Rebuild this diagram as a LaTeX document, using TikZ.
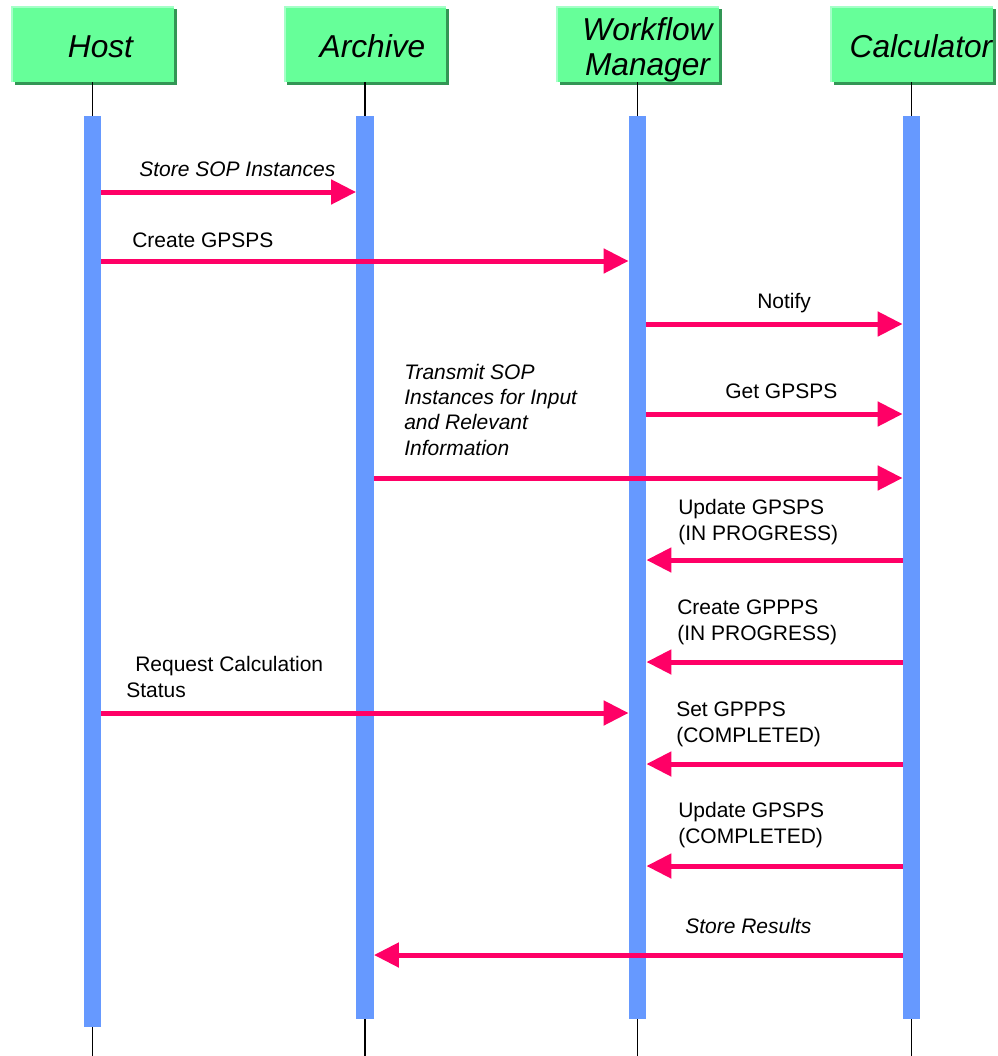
\documentclass[tikz,border=0pt]{standalone}
\usepackage{fontspec}
\setmainfont{Liberation Sans}
\usepackage{tikz}
\usetikzlibrary{calc,shapes,backgrounds,arrows.meta,shadows}
\usetikzlibrary{positioning}
\usepackage{xcolor}
\definecolor{hdrgreen}{RGB}{102,255,153}
\definecolor{hdrdark}{RGB}{51,150,85}
\definecolor{hdrlight}{RGB}{165,255,200}
\definecolor{barblue}{RGB}{102,153,255}
\definecolor{msgred}{RGB}{255,0,102}

\begin{document}
\begin{tikzpicture}[x=0.75pt,y=-0.75pt,
		hdr/.style={fill=hdrgreen,minimum width=121.5pt,minimum height=57pt,inner sep=0pt,
			general shadow={fill=hdrdark,shadow xshift=2.25pt,shadow yshift=-2.25pt}},
		hdrtext/.style={font=\fontsize{23.75}{26.25}\selectfont\itshape,align=center,anchor=base,inner sep=0pt},
		bar/.style={fill=barblue,minimum width=13pt,inner sep=0pt},
		msg/.style={color=msgred,line width=3.75pt,-{Triangle[length=18.75pt,width=18pt]}},
		lbl/.style={font=\fontsize{15.75}{19}\selectfont,align=left,anchor=base west,inner sep=0pt}]
		\useasboundingbox (0,0) rectangle (997,1056);
		\coordinate (bottom) at (0,1056);
		
		% heads
		\node[hdr] (host) at (92.5,44) {};
		\node[hdr] (archive) at (365,44) {};
		\node[hdr] (wfm) at (637.5,44) {};
		\node[hdr] (calc) at (911.5,44) {};
		\foreach \n in {host,archive,wfm,calc}
		\draw[hdrlight,line width=1.5pt] ([xshift=.75pt]\n.south west) -- ([xshift=.75pt,yshift=-.75pt]\n.north west) -- ([yshift=-.75pt]\n.north east);
		\node[hdrtext] (hostname) at (100.5,58) {Host};
		\node[hdrtext] (archivename) at (372.5,58) {Archive};
		\node[hdrtext] (wfmname) at (647.5,75) {Workflow\\Manager};
		\node[hdrtext] (calcname) at (921,58) {Calculator};
		
		% lifelines and bars
		\foreach \n in {host,archive,wfm,calc}
		\draw[line width=1.25pt] (\n.south) -- (\n.south |- bottom);
		\node[bar,below=24.75pt of host,minimum height=683.25pt] (hbar) {};
		\foreach \n/\b in {archive/abar,wfm/wbar,calc/cbar}
		\node[bar,below=24.75pt of \n,minimum height=677.25pt] (\b) {};
		
		% messages
		\foreach \n/\y in {m1/192,m2/261,m3/324,m4/414,m5/478,m6/560,m7/662,m8/713,m9/764,m10/866,m11/955}
		\coordinate (\n) at (0,\y);
		\draw[msg] (hbar.east |- m1) -- (abar.west |- m1);
		\draw[msg] (hbar.east |- m2) -- (wbar.west |- m2);
		\draw[msg] (wbar.east |- m3) -- (cbar.west |- m3);
		\draw[msg] (wbar.east |- m4) -- (cbar.west |- m4);
		\draw[msg] (abar.east |- m5) -- (cbar.west |- m5);
		\draw[msg] (cbar.west |- m6) -- (wbar.east |- m6);
		\draw[msg] (cbar.west |- m7) -- (wbar.east |- m7);
		\draw[msg] (hbar.east |- m8) -- (wbar.west |- m8);
		\draw[msg] (cbar.west |- m9) -- (wbar.east |- m9);
		\draw[msg] (cbar.west |- m10) -- (wbar.east |- m10);
		\draw[msg] (cbar.west |- m11) -- (abar.east |- m11);
		
		% labels (base = last line)
		\node[lbl] (storesop) at (139,176) {\itshape Store SOP Instances};
		\node[lbl] (creategpsps) at (132,247) {Create GPSPS};
		\node[lbl] (notify) at (757,308) {Notify};
		\node[lbl] (getgpsps) at (725,398) {Get GPSPS};
		\node[lbl] (transmit) at (404,455) {\itshape Transmit SOP\\\itshape Instances for Input\\\itshape and Relevant\\\itshape Information};
		\node[lbl] (updprog) at (678,540) {Update GPSPS\\(IN PROGRESS)};
		\node[lbl] (crprog) at (677,640) {Create GPPPS\\(IN PROGRESS)};
		\node[lbl] (request) at (126,697) {\hspace*{6.75pt}Request Calculation\\Status};
		\node[lbl] (setcompl) at (676,742) {Set GPPPS\\(COMPLETED)};
		\node[lbl] (updcompl) at (678,843) {Update GPSPS\\(COMPLETED)};
		\node[lbl] (storeres) at (685,933) {\itshape Store Results};
	\end{tikzpicture}
\end{document}
